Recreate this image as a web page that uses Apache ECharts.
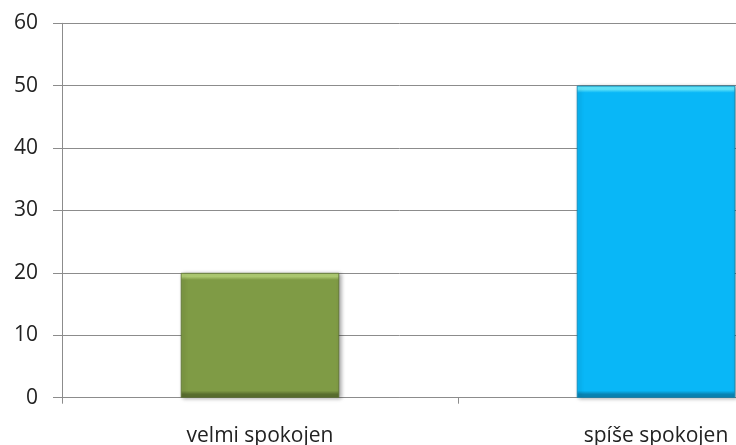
<!DOCTYPE html>
<html>
<head>
<meta charset="utf-8">
<script src="https://cdn.jsdelivr.net/npm/echarts@6/dist/echarts.min.js"></script>
<style>
  html, body { margin: 0; padding: 0; background: #fff; }
  #chart { width: 736px; height: 445px; }
</style>
</head>
<body>
<div id="chart"></div>
<script>
// Survey answers and counts
const categories = ['velmi spokojen', 'spíše spokojen'];
const values = [20, 50];
const yTicks = { min: 0, max: 60, interval: 10 };

// Bar fills: [top bevel, body, bottom bevel]
const barColors = [
  ['#b2cf74', '#7f9b45', '#5b7030'],
  ['#63e9ff', '#09b7f7', '#0a86b6']
];

const chart = echarts.init(document.getElementById('chart'), null, { renderer: 'canvas' });

const gridTop = 23.3, gridHeight = 374.4;
const bevel = 7;

function bevelFill(value, cols) {
  const px = value / yTicks.max * gridHeight;
  const f = Math.min(0.45, bevel / px);
  return new echarts.graphic.LinearGradient(0, 0, 0, 1, [
    { offset: 0, color: cols[0] },
    { offset: f * 0.5, color: cols[0] },
    { offset: f, color: cols[1] },
    { offset: 1 - f, color: cols[1] },
    { offset: 1 - f * 0.5, color: cols[2] },
    { offset: 1, color: cols[2] }
  ]);
}

chart.setOption({
  animation: false,
  grid: {
    left: 62, top: gridTop, height: gridHeight, width: 792,
    containLabel: false, outerBoundsMode: 'none'
  },
  xAxis: {
    type: 'category',
    data: categories,
    axisLine: { lineStyle: { color: '#8c8c8c', width: 1 } },
    axisTick: { show: true, length: 6, lineStyle: { color: '#8c8c8c' } },
    axisLabel: { color: '#222', fontSize: 21, fontFamily: 'Open Sans', margin: 28 },
    splitLine: { show: false }
  },
  yAxis: {
    type: 'value',
    min: yTicks.min,
    max: yTicks.max,
    interval: yTicks.interval,
    axisLine: { show: true, lineStyle: { color: '#8c8c8c', width: 1 } },
    axisTick: { show: true, length: 9, lineStyle: { color: '#8c8c8c' } },
    axisLabel: { color: '#222', fontSize: 21, fontFamily: 'Open Sans', margin: 24 },
    splitLine: { show: true, lineStyle: { color: '#8c8c8c', width: 1 } }
  },
  series: [{
    type: 'bar',
    barWidth: '40%',
    data: values.map((v, i) => ({
      value: v,
      itemStyle: {
        color: bevelFill(v, barColors[i]),
        borderColor: barColors[i][2],
        borderWidth: 0.8,
        shadowColor: 'rgba(0,0,0,0.35)',
        shadowBlur: 4,
        shadowOffsetX: 2,
        shadowOffsetY: 1
      }
    }))
  }]
});
</script>
</body>
</html>
